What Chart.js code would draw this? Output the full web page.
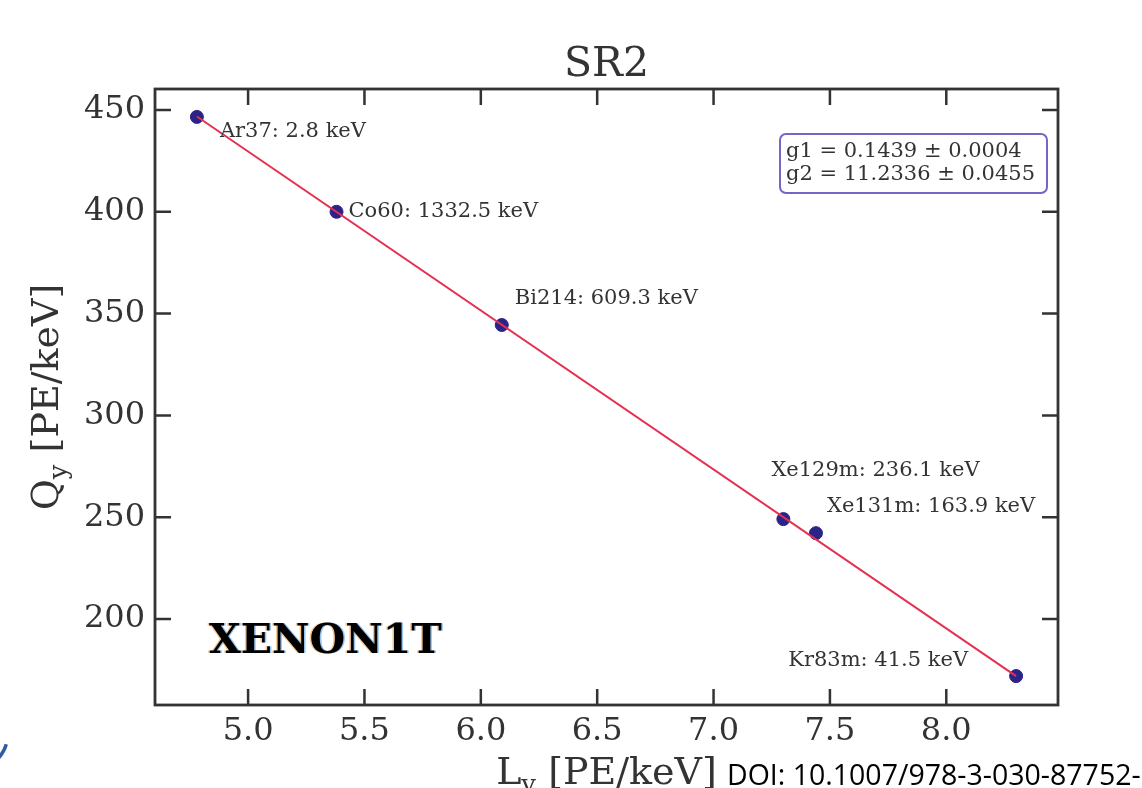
<!DOCTYPE html>
<html>
<head>
<meta charset="utf-8">
<title>SR2 - Qy vs Ly</title>
<script src="https://cdn.jsdelivr.net/npm/chart.js@4.4.1/dist/chart.umd.min.js"></script>
<style>
    html, body { margin: 0; padding: 0; background: #fff; }
    canvas { display: block; }
</style>
</head>
<body>
<canvas id="yieldChart" width="1142" height="788"></canvas>
<script>
// Calibration sources: light yield vs charge yield
const lightYield = [4.78, 5.38, 6.09, 7.30, 7.44, 8.30];
const chargeYield = [446.6, 400.0, 344.4, 249.1, 242.2, 172.0];
const sourceNames = ['Ar37: 2.8 keV', 'Co60: 1332.5 keV', 'Bi214: 609.3 keV',
                     'Xe129m: 236.1 keV', 'Xe131m: 163.9 keV', 'Kr83m: 41.5 keV'];

// Anticorrelation fit end points
const fitLy = [4.78, 8.30];
const fitQy = [446.8, 172.0];
const fitResult = ['g1 = 0.1439 \u00b1 0.0004', 'g2 = 11.2336 \u00b1 0.0455'];

// axis ticks
const xTicks = [5.0, 5.5, 6.0, 6.5, 7.0, 7.5, 8.0];
const yTicks = [200, 250, 300, 350, 400, 450];

const SERIF = "'DejaVu Serif', serif";
const INK = '#333';

// label placement relative to each point, in px
const labelOffsets = [
    { dx: 23, dy: 15, align: 'left' },
    { dx: 12, dy: 0, align: 'left' },
    { dx: 13, dy: -26, align: 'left' },
    { dx: -12, dy: -49, align: 'left' },
    { dx: 11, dy: -27, align: 'left' },
    { dx: -48, dy: -16, align: 'right' }
];

function drawSubLabel(ctx, main, sub, rest, x, y) {
    // draws e.g. "Q" + subscript "y" + " [PE/keV]" centred on x
    const mainFont = '38px ' + SERIF;
    const subFont = '26px ' + SERIF;
    ctx.font = mainFont;
    const w1 = ctx.measureText(main).width;
    const w3 = ctx.measureText(rest).width;
    ctx.font = subFont;
    const w2 = ctx.measureText(sub).width;
    let cx = x - (w1 + w2 + w3) / 2;
    ctx.textAlign = 'left';
    ctx.textBaseline = 'alphabetic';
    ctx.font = mainFont;
    ctx.fillText(main, cx, y);
    cx += w1;
    ctx.font = subFont;
    ctx.fillText(sub, cx, y + 9);
    cx += w2;
    ctx.font = mainFont;
    ctx.fillText(rest, cx, y);
}

const decorations = {
    id: 'decorations',
    afterDraw(chart) {
        const ctx = chart.ctx;
        const area = chart.chartArea;
        const xs = chart.scales.x;
        const ys = chart.scales.y;
        ctx.save();

        // frame
        ctx.strokeStyle = INK;
        ctx.lineWidth = 2.8;
        ctx.strokeRect(area.left, area.top, area.right - area.left, area.bottom - area.top);

        // inward ticks on all four sides
        const tl = 16;
        ctx.lineWidth = 2.5;
        ctx.beginPath();
        xs.ticks.forEach(t => {
            const px = xs.getPixelForValue(t.value);
            ctx.moveTo(px, area.bottom); ctx.lineTo(px, area.bottom - tl);
            ctx.moveTo(px, area.top); ctx.lineTo(px, area.top + tl);
        });
        ys.ticks.forEach(t => {
            const py = ys.getPixelForValue(t.value);
            ctx.moveTo(area.left, py); ctx.lineTo(area.left + tl, py);
            ctx.moveTo(area.right, py); ctx.lineTo(area.right - tl, py);
        });
        ctx.stroke();

        // source labels
        ctx.fillStyle = INK;
        ctx.font = '21px ' + SERIF;
        ctx.textBaseline = 'middle';
        sourceNames.forEach((name, i) => {
            const px = xs.getPixelForValue(lightYield[i]);
            const py = ys.getPixelForValue(chargeYield[i]);
            const o = labelOffsets[i];
            ctx.textAlign = o.align;
            ctx.fillText(name, px + o.dx, py + o.dy);
        });

        // fit result box
        const boxW = 267, boxH = 59;
        const bx = area.right - 11 - boxW;
        const by = area.top + 45;
        ctx.beginPath();
        ctx.roundRect(bx, by, boxW, boxH, 6);
        ctx.fillStyle = '#fff';
        ctx.fill();
        ctx.strokeStyle = '#7366c4';
        ctx.lineWidth = 2;
        ctx.stroke();
        ctx.fillStyle = INK;
        ctx.textAlign = 'left';
        fitResult.forEach((line, i) => {
            ctx.fillText(line, bx + 6, by + 18 + i * 23);
        });

        // experiment tag
        ctx.font = 'bold 41px ' + SERIF;
        ctx.textBaseline = 'alphabetic';
        const tagX = area.left + 54, tagY = area.bottom - 52;
        ctx.fillStyle = 'rgba(240,150,40,0.55)';
        ctx.fillText('XENON1T', tagX - 1.5, tagY);
        ctx.fillStyle = 'rgba(60,150,230,0.55)';
        ctx.fillText('XENON1T', tagX + 1.5, tagY);
        ctx.fillStyle = '#000';
        ctx.fillText('XENON1T', tagX, tagY);

        // title
        const midX = (area.left + area.right) / 2;
        ctx.fillStyle = INK;
        ctx.font = '41px ' + SERIF;
        ctx.textAlign = 'center';
        ctx.fillText('SR2', midX, 76);

        // axis titles
        drawSubLabel(ctx, 'L', 'y', ' [PE/keV]', midX, 784);
        ctx.save();
        ctx.translate(58, (area.top + area.bottom) / 2);
        ctx.rotate(-Math.PI / 2);
        drawSubLabel(ctx, 'Q', 'y', ' [PE/keV]', 0, 0);
        ctx.restore();

        // reference
        ctx.fillStyle = '#000';
        ctx.font = "28.5px 'Open Sans', sans-serif";
        ctx.textAlign = 'left';
        ctx.fillText('DOI: 10.1007/978-3-030-87752-', 727, 785);

        // logo edge in the corner
        ctx.strokeStyle = '#2f5ba8';
        ctx.lineWidth = 3.5;
        ctx.beginPath();
        ctx.arc(-30, 733, 38, 0.3, 0.75);
        ctx.stroke();

        ctx.restore();
    }
};

const ctx = document.getElementById('yieldChart').getContext('2d');
new Chart(ctx, {
    type: 'scatter',
    data: {
        datasets: [
            {
                type: 'line',
                label: 'fit',
                data: fitLy.map((x, i) => ({ x: x, y: fitQy[i] })),
                borderColor: '#e6304f',
                borderWidth: 2,
                pointRadius: 0,
                fill: false,
                order: 0
            },
            {
                label: 'sources',
                data: lightYield.map((x, i) => ({ x: x, y: chargeYield[i] })),
                backgroundColor: '#2b2388',
                borderColor: '#2b2388',
                pointRadius: 6.5,
                order: 1
            }
        ]
    },
    options: {
        responsive: false,
        animation: false,
        layout: { padding: { top: 89, right: 84, left: 0, bottom: 0 } },
        plugins: {
            legend: { display: false },
            title: { display: false },
            tooltip: { enabled: false }
        },
        scales: {
            x: {
                type: 'linear',
                min: 4.6,
                max: 8.48,
                afterFit(scale) { scale.height = 83; },
                afterBuildTicks(scale) { scale.ticks = xTicks.map(v => ({ value: v })); },
                grid: { display: false, drawTicks: false },
                border: { display: false },
                ticks: {
                    padding: 7,
                    color: INK,
                    font: { family: SERIF, size: 32 },
                    callback: v => v.toFixed(1)
                }
            },
            y: {
                type: 'linear',
                min: 157.8,
                max: 460.3,
                afterFit(scale) { scale.width = 155; },
                afterBuildTicks(scale) { scale.ticks = yTicks.map(v => ({ value: v })); },
                grid: { display: false, drawTicks: false },
                border: { display: false },
                ticks: {
                    padding: 10,
                    color: INK,
                    font: { family: SERIF, size: 32 }
                }
            }
        }
    },
    plugins: [decorations]
});
</script>
</body>
</html>
